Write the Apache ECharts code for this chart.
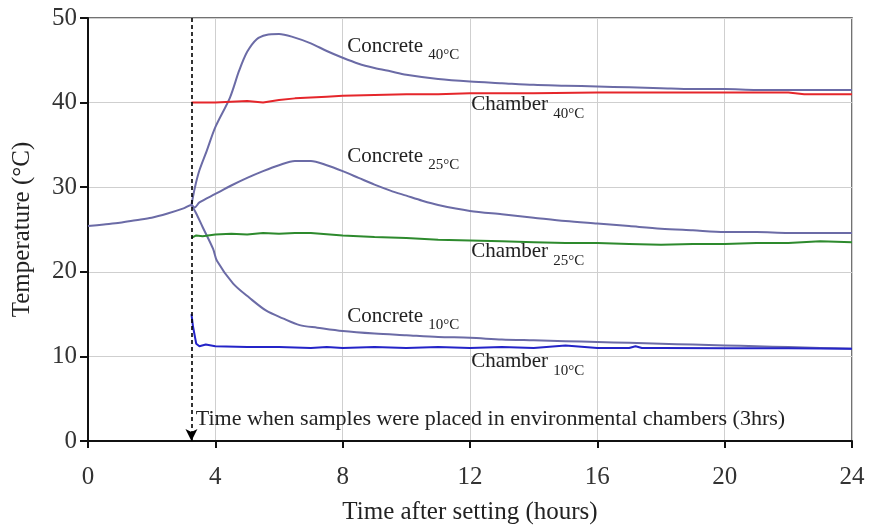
<!DOCTYPE html>
<html>
<head>
<meta charset="utf-8">
<script src="https://cdn.jsdelivr.net/npm/echarts@6/dist/echarts.min.js"></script>
<style>html,body{margin:0;padding:0;background:#fff}#c{width:871px;height:527px}</style>
</head>
<body>
<div id="c"></div>
<script>
// ---- data (hours after setting, temperature °C) ----
var concrete25 = [[0,25.4],[0.5,25.6],[1,25.8],[1.5,26.1],[2,26.4],[2.5,26.9],[3,27.5],[3.25,27.9],[3.35,27.6],[3.5,28.2],[4,29.2],[4.5,30.2],[5,31.1],[5.5,31.9],[6,32.6],[6.5,33.1],[7,33.1],[7.5,32.6],[8,31.9],[8.5,31.1],[9,30.3],[9.5,29.6],[10,29.0],[10.5,28.4],[11,27.9],[12,27.2],[13,26.8],[14,26.4],[15,26.0],[16,25.7],[17,25.4],[18,25.1],[19,24.9],[20,24.7],[21,24.7],[22,24.6],[23,24.6],[24,24.6]];
var concrete40 = [[3.25,27.9],[3.36,30.0],[3.5,32.0],[3.73,34.3],[4.0,37.1],[4.46,40.6],[4.75,43.8],[5.0,46.0],[5.3,47.5],[5.6,48.0],[6.0,48.1],[6.4,47.8],[7,47.0],[7.5,46.1],[8,45.3],[8.5,44.6],[9,44.1],[9.5,43.7],[10,43.3],[11,42.8],[12,42.5],[13,42.3],[14,42.1],[15,42.0],[16,41.9],[17,41.8],[18,41.7],[19,41.6],[20,41.6],[21,41.5],[22,41.5],[23,41.5],[24,41.5]];
var concrete10 = [[3.25,27.9],[3.4,26.9],[3.6,25.3],[3.93,22.7],[4.05,21.3],[4.56,18.6],[5.08,16.9],[5.6,15.4],[6.12,14.5],[6.65,13.7],[7.2,13.4],[8,13.0],[9,12.7],[10,12.5],[11,12.3],[12,12.2],[13,12.0],[14,11.9],[15,11.8],[16,11.7],[17,11.6],[18,11.5],[19,11.4],[20,11.3],[21,11.2],[22,11.1],[23,11.0],[24,10.9]];
var chamber40 = [[3.25,40.0],[4,40.0],[4.5,40.1],[5,40.2],[5.5,40.0],[6,40.3],[6.5,40.5],[7,40.6],[7.5,40.7],[8,40.8],[9,40.9],[10,41.0],[11,41.0],[12,41.1],[14,41.1],[16,41.2],[18,41.2],[20,41.2],[22,41.2],[22.5,41.0],[23,41.0],[24,41.0]];
var chamber25 = [[3.25,24.0],[3.4,24.3],[3.6,24.2],[4,24.4],[4.5,24.5],[5,24.4],[5.5,24.6],[6,24.5],[6.5,24.6],[7,24.6],[8,24.3],[9,24.1],[10,24.0],[11,23.8],[12,23.7],[13,23.6],[14,23.5],[15,23.4],[16,23.4],[17,23.3],[18,23.2],[19,23.3],[20,23.3],[21,23.4],[22,23.4],[23,23.6],[24,23.5]];
var chamber10 = [[3.25,15.0],[3.3,13.5],[3.4,11.5],[3.5,11.2],[3.7,11.4],[4,11.2],[5,11.1],[6,11.1],[7,11.0],[7.5,11.1],[8,11.0],[9,11.1],[10,11.0],[11,11.1],[12,11.0],[13,11.1],[14,11.0],[15,11.3],[16,11.0],[17,11.0],[17.2,11.2],[17.4,11.0],[18,11.0],[20,10.95],[22,10.95],[24,10.9]];
var placedTime = 3.25;
// labels: [x, y, name, subscript]
var curveLabels = [[8.13,46.3,'Concrete','40°C'],[12.02,39.4,'Chamber','40°C'],[8.13,33.3,'Concrete','25°C'],[12.02,22.0,'Chamber','25°C'],[8.13,14.4,'Concrete','10°C'],[12.02,9.0,'Chamber','10°C']];
var noteText = 'Time when samples were placed in environmental chambers (3hrs)';
var noteAnchor = [3.37, 2.6];
var xTitle = 'Time after setting (hours)';
var yTitle = 'Temperature (°C)';

var FONT = 'Liberation Serif';
var chart = echarts.init(document.getElementById('c'), null, {renderer:'canvas'});

function lineSeries(name, data, color, smooth){
  return {name:name, type:'line', data:data, symbol:'none', smooth:smooth,
    lineStyle:{color:color, width:2}, itemStyle:{color:color}, animation:false, z:3};
}

var labelPoints = curveLabels.map(function(l){
  return {coord:[l[0], l[1]], value:l[2],
    label:{formatter:'{a|' + l[2] + ' }{b|' + l[3] + '}'}};
});
labelPoints.push({coord:noteAnchor, value:noteText, label:{formatter:'{n|' + noteText + '}'}});

var series = [
  lineSeries('Concrete 25', concrete25, '#6b6ba6', 0.3),
  lineSeries('Concrete 40', concrete40, '#6b6ba6', 0.3),
  lineSeries('Concrete 10', concrete10, '#6b6ba6', 0.3),
  lineSeries('Chamber 40', chamber40, '#e5262b', false),
  lineSeries('Chamber 25', chamber25, '#2d8a2d', false),
  lineSeries('Chamber 10', chamber10, '#2424c8', false)
];
series[0].markLine = {
  silent:true, symbol:['none','arrow'], symbolSize:[9,12], animation:false,
  label:{show:false},
  lineStyle:{color:'#000', type:[4,3], width:1.6},
  data:[[{coord:[placedTime,50]},{coord:[placedTime,0]}]]
};
series[0].markPoint = {
  silent:true, symbol:'circle', symbolSize:1, animation:false,
  itemStyle:{color:'rgba(0,0,0,0)'},
  label:{show:true, position:'right', distance:0, color:'#222', fontFamily:FONT,
    rich:{
      a:{fontFamily:FONT, fontSize:21, color:'#222', verticalAlign:'bottom', padding:[0,0,6,0]},
      b:{fontFamily:FONT, fontSize:15, color:'#222', verticalAlign:'bottom'},
      n:{fontFamily:FONT, fontSize:22, color:'#222'}
    }},
  data:labelPoints
};

chart.setOption({
  backgroundColor:'#fff',
  animation:false,
  grid:{left:88, right:19, top:18, bottom:86, containLabel:false, outerBoundsMode:'none',
    show:true, borderColor:'#444', borderWidth:1.5, backgroundColor:'transparent'},
  xAxis:{type:'value', min:0, max:24, interval:4,
    name:xTitle, nameLocation:'middle', nameGap:59,
    nameTextStyle:{fontFamily:FONT, fontSize:25, color:'#222'},
    axisLine:{show:true, lineStyle:{color:'#111', width:2}},
    axisTick:{show:true, length:7, lineStyle:{color:'#111', width:2}},
    axisLabel:{fontFamily:FONT, fontSize:25, color:'#333', margin:24},
    splitLine:{show:true, lineStyle:{color:'#cfcfcf', width:1}}
  },
  yAxis:{type:'value', min:0, max:50, interval:10,
    name:yTitle, nameLocation:'middle', nameGap:53, nameRotate:90,
    nameTextStyle:{fontFamily:FONT, fontSize:25, color:'#222'},
    axisLine:{show:true, lineStyle:{color:'#111', width:2}},
    axisTick:{show:true, length:8, lineStyle:{color:'#111', width:2}},
    axisLabel:{fontFamily:FONT, fontSize:25, color:'#333', margin:11},
    splitLine:{show:true, lineStyle:{color:'#cfcfcf', width:1}}
  },
  series:series
});
</script>
</body>
</html>
